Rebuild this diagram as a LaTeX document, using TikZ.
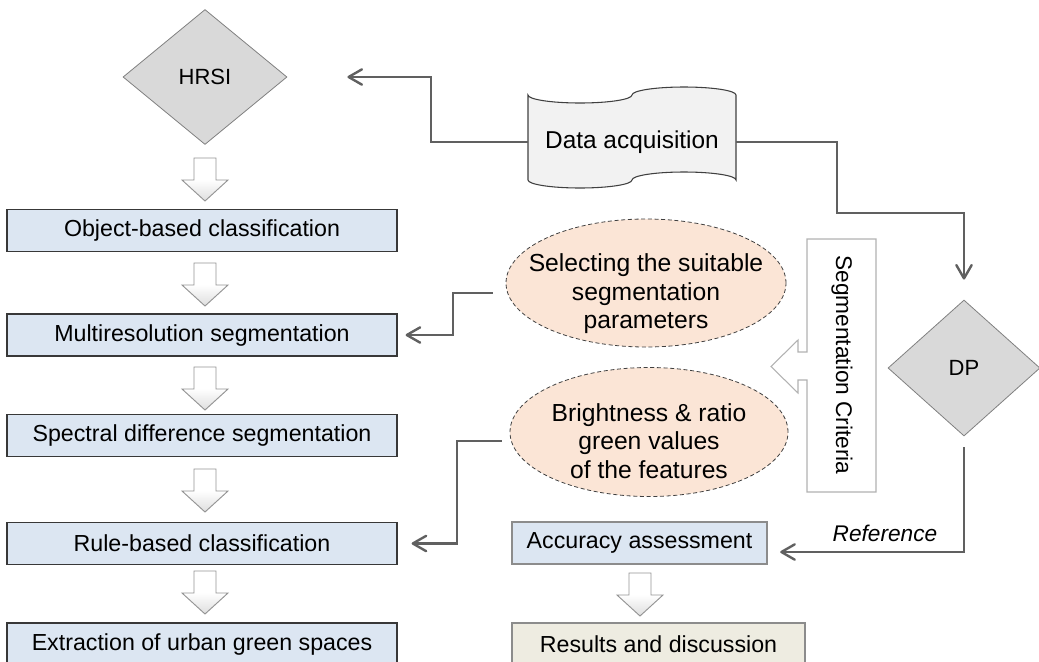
\documentclass[tikz,border=0pt]{standalone}
\usepackage{fontspec}
\setmainfont{Liberation Sans}
\usetikzlibrary{shapes.geometric,arrows.meta,calc}
\definecolor{boxblue}{HTML}{DCE6F2}
\definecolor{boxbeige}{HTML}{EEECE1}
\definecolor{peachfill}{HTML}{FBE5D6}
\definecolor{diamfill}{HTML}{D9D9D9}
\definecolor{linkgray}{HTML}{606060}
\definecolor{tapefill}{HTML}{F2F2F2}
\begin{document}
\begin{tikzpicture}[x=0.75pt,y=-0.75pt,
  stepbox/.style={draw=black!78, line width=0.9pt, fill=boxblue, minimum width=292.5pt, minimum height=31.5pt, inner sep=0pt, font=\fontsize{17.4pt}{20pt}\selectfont},
  lightbox/.style={draw=black!45, line width=0.8pt, minimum height=31.5pt, inner sep=0pt, font=\fontsize{17.4pt}{20pt}\selectfont},
  diam/.style={diamond, draw=black!50, line width=0.6pt, fill=diamfill, inner sep=0pt, font=\fontsize{16.5pt}{19pt}\selectfont},
  oval/.style={ellipse, draw=black!75, densely dashed, line width=0.6pt, fill=peachfill, inner sep=0pt},
  ovaltext/.style={align=center, inner sep=0pt, font=\fontsize{18.5pt}{21.4pt}\selectfont},
  link/.style={draw=linkgray, line width=1.8pt, line join=miter, -{Straight Barb[length=10pt,width=11.5pt,round]}},
  blockarrow/.style={draw=black!42, line width=0.7pt, top color=white, bottom color=black!13, middle color=white},
  pics/blockdown/.style={code={\path[blockarrow] (-11,0) -- (11,0) -- (11,22) -- (23,22) -- (0,43) -- (-23,22) -- (-11,22) -- cycle;}}
]
\useasboundingbox (0,0) rectangle (1039,661);
\clip (0,0) rectangle (1039,661);

% HRSI and left column
\node[diam, minimum width=123pt, minimum height=101.25pt] (hrsi) at (205,77) {HRSI};
\node[stepbox] (b1) at (202,230.5) {Object-based classification};
\node[stepbox] (b2) at (202,335) {Multiresolution segmentation};
\node[stepbox] (b3) at (202,435.5) {Spectral difference segmentation};
\node[stepbox] (b4) at (202,543.5) {Rule-based classification};
\node[stepbox] (b5) at (202,644) {Extraction of urban green spaces};
\pic at (205,158) {blockdown};
\pic at (205,263) {blockdown};
\pic at (205,367) {blockdown};
\pic at (205,469) {blockdown};
\pic at (205,571) {blockdown};

% Data acquisition (punched tape)
\draw[draw=black!75, line width=0.8pt, fill=tapefill]
  (528,95) .. controls (528,99.4) and (551.3,103) .. (580,103)
           .. controls (608.7,103) and (632,99.4) .. (632,95)
           .. controls (632,90.6) and (655.3,87) .. (684,87)
           .. controls (712.7,87) and (736,90.6) .. (736,95)
  -- (736,180)
           .. controls (736,175.6) and (712.7,172) .. (684,172)
           .. controls (655.3,172) and (632,175.6) .. (632,180)
           .. controls (632,184.4) and (608.7,188) .. (580,188)
           .. controls (551.3,188) and (528,184.4) .. (528,180)
  -- cycle;
\node[minimum width=156pt, minimum height=63pt, inner sep=0pt, font=\fontsize{18.3pt}{21pt}\selectfont] (data) at (632,142) {Data acquisition};

% DP
\node[diam, minimum width=114pt, minimum height=102pt] (dp) at (964,368) {DP};

% Ellipses
\node[oval, minimum width=210pt, minimum height=96pt] (e1) at (646,283) {};
\node[ovaltext] (e1t) at (646,294) {Selecting the suitable\\segmentation\\parameters};
\node[oval, minimum width=208.5pt, minimum height=96.75pt] (e2) at (649,432) {};
\node[ovaltext] (e2t) at (649,441) {Brightness \& ratio\\green values\\of the features};

% Segmentation criteria box with left block arrow
\draw[draw=black!30, line width=0.8pt, fill=white]
  (876,239) -- (807,239) -- (807,352) -- (798,352) -- (798,340) -- (771,366.5)
  -- (798,393) -- (798,380) -- (807,380) -- (807,492) -- (876,492) -- cycle;
\node[rotate=-90, inner sep=0pt, font=\fontsize{17pt}{20pt}\selectfont] (crit) at (842,365) {Segmentation Criteria};

% Right column boxes
\node[lightbox, fill=boxblue, minimum width=191.25pt] (acc) at (639.5,543) {Accuracy assessment};
\node[lightbox, fill=boxbeige, minimum width=219.75pt] (res) at (658.5,644) {Results and discussion};
\pic at (640,573) {blockdown};

% Connectors
\coordinate (k1) at (431,77);
\draw[link, shorten >=45pt] (data.west) -| (k1) -- (hrsi.east);
\coordinate (k2) at (837,213);
\draw[link, shorten >=15pt] (data.east) -| (k2) -| (dp.north);
\coordinate (k3) at (453,335);
\draw[link, shorten >=6pt] ($(e1.west)+(-13,10)$) -| (k3) -- (b2.east);
\coordinate (k4) at (457,543.5);
\draw[link, shorten >=10.5pt] ($(e2.west)+(-8,9)$) -| (k4) -- (b4.east);
\draw[link, shorten <=8.25pt, shorten >=9.5pt] (dp.south) |- ($(acc.east)+(0,9)$);
\node[font=\fontsize{17pt}{20pt}\selectfont\itshape, inner sep=0pt] (reflabel) at (885,533) {Reference};
\end{tikzpicture}
\end{document}
